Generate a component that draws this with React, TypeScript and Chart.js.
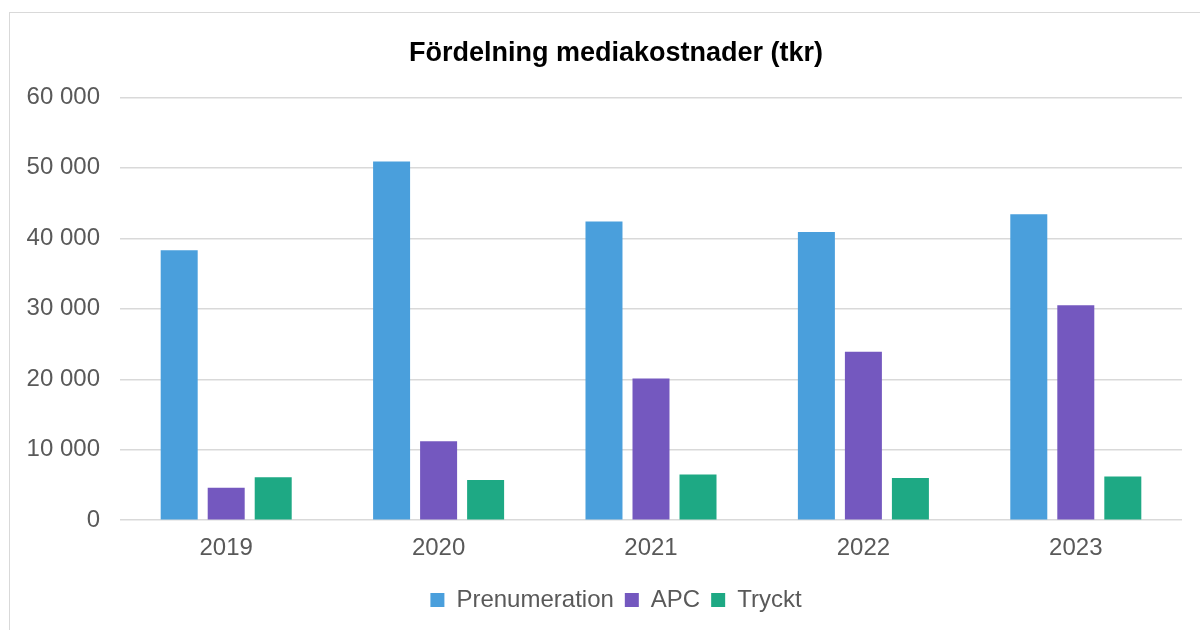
import React, { useEffect, useRef } from "react";
import { Chart, registerables } from "chart.js";

Chart.register(...registerables);

const years = ["2019", "2020", "2021", "2022", "2023"];
const prenumeration = [38300, 50900, 42400, 40900, 43400];
const apc = [4600, 11200, 20100, 23900, 30500];
const tryckt = [6100, 5700, 6500, 6000, 6200];
const chartTitle = "Fördelning mediakostnader (tkr)";

const fmt = (v: number) => String(v).replace(/\B(?=(\d{3})+(?!\d))/g, " ");
const FAMILY = "'Liberation Sans', Arial, sans-serif";

const unclipYLabels = {
  id: "unclipYLabels",
  afterLayout(chart: any) {
    const y = chart.scales.y;
    if (y) y.left = 0;
  },
};

export default function App() {
  const ref = useRef<HTMLCanvasElement | null>(null);
  useEffect(() => {
    if (!ref.current) return;
    const chart = new Chart(ref.current, {
      type: "bar",
      data: {
        labels: years,
        datasets: [
          { label: "Prenumeration", data: prenumeration, backgroundColor: "#4A9FDC" },
          { label: "APC", data: apc, backgroundColor: "#7458BF" },
          { label: "Tryckt", data: tryckt, backgroundColor: "#1EA984" },
        ],
      },
      plugins: [unclipYLabels],
      options: {
        animation: false,
        responsive: false,
        maintainAspectRatio: false,
        layout: { padding: { left: 40, right: 28, top: 0, bottom: 0 } },
        datasets: { bar: { categoryPercentage: 0.664, barPercentage: 0.787 } },
        plugins: {
          title: {
            display: true,
            text: chartTitle,
            color: "#000000",
            font: { family: FAMILY, size: 27, weight: "bold" },
            padding: { top: 24, bottom: 28 },
          },
          legend: {
            position: "bottom",
            labels: {
              color: "#595959",
              font: { family: FAMILY, size: 24 },
              boxWidth: 14,
              boxHeight: 14,
              padding: 11,
            },
          },
          tooltip: { enabled: false },
        },
        scales: {
          x: {
            grid: { display: false, drawTicks: false },
            border: { display: false },
            ticks: {
              color: "#595959",
              font: { family: FAMILY, size: 24 },
              padding: 14,
            },
          },
          y: {
            min: 0,
            max: 60000,
            afterFit: (s: any) => {
              s.width = 70;
            },
            grid: { color: "#d9d9d9", lineWidth: 1.5, drawTicks: false },
            border: { display: false },
            ticks: {
              stepSize: 10000,
              color: "#595959",
              font: { family: FAMILY, size: 24 },
              padding: 20,
              callback: (v: any) => fmt(Number(v)),
            },
          },
        },
      },
    });
    return () => chart.destroy();
  }, []);
  return (
    <div
      style={{
        position: "fixed",
        left: 9,
        top: 12,
        width: 1200,
        height: 640,
        border: "1px solid #d9d9d9",
        background: "#fff",
      }}
    >
      <canvas ref={ref} width={1200} height={609} style={{ display: "block" }} />
    </div>
  );
}
